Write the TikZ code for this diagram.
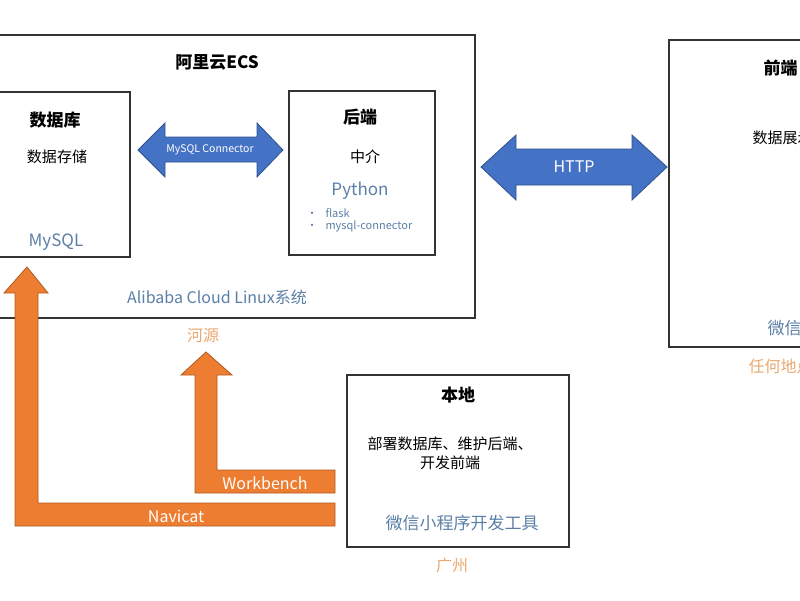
\documentclass[tikz,border=0pt]{standalone}
\usepackage{fontspec}
\setmainfont{Noto Sans CJK SC}
\usepackage{tikz}
\definecolor{bluefill}{RGB}{68,114,196}
\definecolor{blueline}{RGB}{47,82,143}
\definecolor{orangefill}{RGB}{237,125,49}
\definecolor{orangeline}{RGB}{174,90,33}
\definecolor{subtext}{RGB}{91,127,166}
\definecolor{placetext}{RGB}{232,168,112}
\tikzset{
  box/.style={draw=black!80, line width=1.2pt},
  title/.style={font=\bfseries\fontsize{17}{20}\selectfont},
  body/.style={font=\fontsize{15}{19}\selectfont},
  sub/.style={text=subtext, font=\fontsize{17}{20}\selectfont},
  place/.style={text=placetext, font=\fontsize{16}{19}\selectfont},
  bluearrow/.style={fill=bluefill, draw=blueline, line width=0.8pt},
  orangearrow/.style={fill=orangefill, draw=orangeline, line width=0.8pt},
}
\begin{document}
\begin{tikzpicture}[x=1pt, y=-1pt]
\useasboundingbox (0,0) rectangle (800,600);
\clip (0,0) rectangle (800,600);
% boxes
\draw [box] (-10,35) rectangle (475,318);
\draw [box] (-10,92) rectangle (130,257);
\draw [box] (289,91) rectangle (435,255);
\draw [box] (347,375) rectangle (569,547);
\draw [box] (669,40) rectangle (830,347);
% arrows
\draw [bluearrow] (138,150) -- (165,123) -- (165,137) -- (257,137) -- (257,123) -- (283,150)
  -- (257,177) -- (257,162) -- (165,162) -- (165,177) -- cycle;
\draw [bluearrow] (481,167) -- (516,135) -- (516,149) -- (632,149) -- (632,135) -- (667,167)
  -- (632,200) -- (632,185) -- (516,185) -- (516,200) -- cycle;
\draw [orangearrow] (27,267) -- (48,293) -- (38,293) -- (38,503) -- (335,503) -- (335,526)
  -- (15,526) -- (15,293) -- (4,293) -- cycle;
\draw [orangearrow] (206,352) -- (232,375) -- (217,375) -- (217,470) -- (335,470) -- (335,493)
  -- (195,493) -- (195,375) -- (181,375) -- cycle;
%Text
\node [title] (ecs) at (217,62) {阿里云ECS};
\node [title] (db) at (55,120) {数据库};
\node [body] (store) at (57,157) {数据存储};
\node [sub] (mysql) at (56,242) {MySQL};
\node [title] (backend) at (360,117) {后端};
\node [body] (mid) at (365,157) {中介};
\node [sub] (python) at (360,191) {Python};
\node [text=subtext, font=\fontsize{11}{13}\selectfont, anchor=west, align=left] (libs) at (303,220)
  {\textbullet\hspace{8pt}flask\\[-1pt]\textbullet\hspace{8pt}mysql-connector};
\node [text=white, font=\fontsize{10.5}{12}\selectfont] (conn) at (210,150) {MySQL Connector};
\node [text=white, font=\fontsize{16}{19}\selectfont] (http) at (574,167) {HTTP};
\node [sub, font=\fontsize{16}{19}\selectfont] (os) at (217,297) {Alibaba Cloud Linux系统};
\node [place] (heyuan) at (203,336) {河源};
\node [text=white, font=\fontsize{16}{19}\selectfont] (wb) at (265,483) {Workbench};
\node [text=white, font=\fontsize{16}{19}\selectfont] (navicat) at (176,516) {Navicat};
\node [title] (local) at (458,395) {本地};
\node [body, align=center] (tasks) at (450,453) {部署数据库、维护后端、\\开发前端};
\node [sub] (devtool) at (462,523) {微信小程序开发工具};
\node [place] (gz) at (452,565) {广州};
\node [title, anchor=west] (front) at (760,68) {前端};
\node [body, anchor=west] (show) at (749,138) {数据展示};
\node [sub, anchor=west] (wx) at (764,328) {微信小程序};
\node [place, anchor=west] (any) at (745,366) {任何地点};
\end{tikzpicture}
\end{document}
